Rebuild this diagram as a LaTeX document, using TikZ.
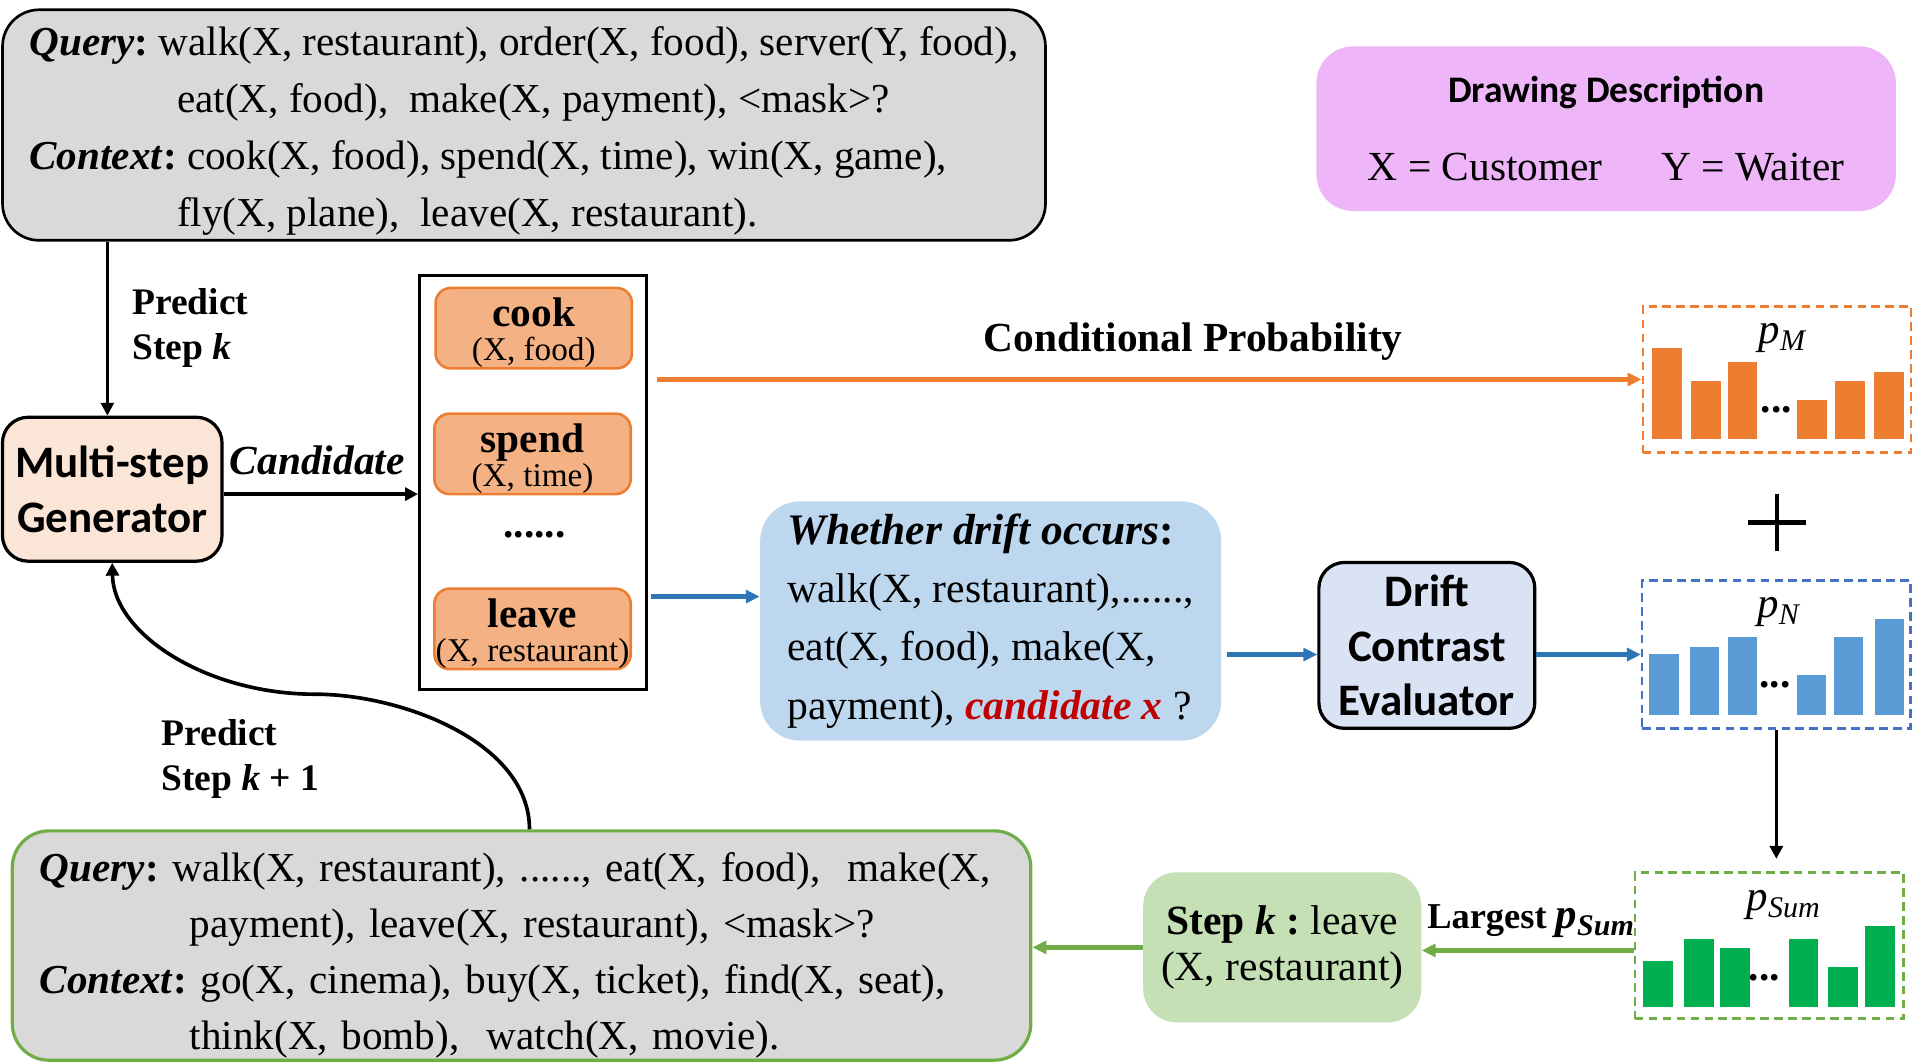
\documentclass[tikz,border=0pt]{standalone}
\usepackage{fontspec}
\setmainfont{Liberation Serif}
\setsansfont{Carlito}
\usepackage{xcolor}
\usetikzlibrary{arrows.meta, positioning}

\definecolor{boxgray}{RGB}{217,217,217}
\definecolor{cporange}{RGB}{237,125,49}
\definecolor{candfill}{RGB}{244,177,131}
\definecolor{genfill}{RGB}{251,229,214}
\definecolor{arrblue}{RGB}{46,117,182}
\definecolor{driftfill}{RGB}{189,215,238}
\definecolor{evalfill}{RGB}{218,227,243}
\definecolor{dashblue}{RGB}{68,114,196}
\definecolor{barblue}{RGB}{91,155,213}
\definecolor{stepgreen}{RGB}{112,173,71}
\definecolor{bargreen}{RGB}{0,176,80}
\definecolor{stepfill}{RGB}{197,224,180}
\definecolor{candred}{RGB}{192,0,0}
\definecolor{descfill}{RGB}{238,181,248}

\newcommand{\querysize}{\fontsize{19.2}{26.6}\selectfont}
\newcommand{\argsize}{\fontsize{15.5}{16}\selectfont}
\newcommand{\namesize}{\fontsize{19.3}{16}\selectfont}
\newcommand{\modsize}{\fontsize{21}{25.5}\selectfont}
\newcommand{\predsize}{\fontsize{17.5}{21}\selectfont}
\frenchspacing

\tikzset{
    querybox/.style={draw, fill=boxgray, rounded corners=0.6cm, line width=1.25pt, align=left, inner ysep=0pt},
    candbox/.style={draw=cporange, fill=candfill, rounded corners=0.25cm, line width=1.2pt,
        minimum width=3.22cm, minimum height=1.32cm, inner sep=0pt, align=center, font=\argsize},
    modulebox/.style={draw, line width=1.5pt, rounded corners=0.42cm, align=center,
        font=\modsize\sffamily\bfseries},
    distbox/.style={line width=1.2pt, dash pattern=on 4pt off 2.5pt,
        minimum width=4.4cm, minimum height=2.4cm},
    plabel/.style={font=\fontsize{20}{22}\selectfont\itshape},
    flow/.style={-{Triangle[length=6pt,width=6pt]}, line width=1.7pt},
    colorflow/.style={-{Triangle[length=6.5pt,width=6pt]}, line width=2.2pt}
}

\begin{document}
\begin{tikzpicture}[x=0.02cm, y=-0.02cm]
    \useasboundingbox (0,0) rectangle (1568,871);

    % query of step k
    \node[querybox, font=\querysize, minimum width=17.1cm, minimum height=3.78cm] (query) at (429.5,102.5) {%
        \rule{0pt}{0.68cm}\textbf{\textit{Query}:} walk(X, restaurant), order(X, food), server(Y, food),\\
        \hspace*{2.42cm}eat(X, food),\ \ make(X, payment), <mask>?\\
        \textbf{\textit{Context}:} cook(X, food), spend(X, time), win(X, game),\\
        \hspace*{2.42cm}fly(X, plane),\ \ leave(X, restaurant).};

    % drawing description
    \node[fill=descfill, rounded corners=0.6cm, minimum width=9.5cm, minimum height=2.7cm, align=center,
        font=\fontsize{19.3}{26.4}\selectfont] (desc) at (1316.5,105.5)
        {{\sffamily\bfseries\fontsize{17.5}{20}\selectfont Drawing Description}\\[10pt]
         X = Customer\hspace{0.96cm}Y = Waiter};

    % generator and candidates
    \node[modulebox, fill=genfill, minimum width=3.6cm, minimum height=2.36cm] (gen) at (92,401) {Multi-step\\Generator};
    \node[anchor=west, align=left, inner xsep=0pt, font=\predsize\bfseries] (predictk) at (108,268.5) {Predict\\Step \textit{k}};
    \draw[flow] ([xshift=-0.08cm]gen.north |- query.south) -- ([xshift=-0.08cm]gen.north);

    \node[draw, line width=1.6pt, minimum width=3.72cm, minimum height=6.78cm] (cands) at (437,395.5) {};
    \node[candbox] (cook) at (437.5,269) {\rule{0pt}{0.62cm}{\namesize\bfseries cook}\\(X, food)};
    \node[candbox] (spend) at (436.5,372) {\rule{0pt}{0.62cm}{\namesize\bfseries spend}\\(X, time)};
    \node[font=\namesize\bfseries] (moredots) at (438,438) {......};
    \node[candbox] (leave) at (436.5,515.5) {\rule{0pt}{0.62cm}{\namesize\bfseries leave}\\(X, restaurant)};

    \node[font=\fontsize{19.3}{22}\selectfont\bfseries\itshape] (candlabel) at (260,377) {Candidate};
    \draw[flow] (gen.east |- 0,405) -- (cands.west |- 0,405);

    % conditional probability
    \node[distbox, draw=cporange] (pm) at (1456.5,311) {};
    \node[plabel] (pmlabel) at (1461,277) {p\textsubscript{M}};
    \foreach \bx/\btop in {1354/285, 1386/312, 1416/297, 1473/328, 1504/312, 1536/305}
        \fill[cporange] (\bx,360) rectangle (\bx+24.5,\btop);
    \node[font=\namesize\bfseries] (pmdots) at (1456,336) {...};
    \node[font=\fontsize{19.3}{22}\selectfont\bfseries] (condprob) at (978,280) {Conditional Probability};
    \draw[colorflow, cporange] ([xshift=0.14cm]cands.east |- pm.west) -- (pm.west);

    \draw[line width=2.3pt] (1433,428) -- (1480,428);
    \draw[line width=2.3pt] (1456.5,405) -- (1456.5,452);

    % drift
    \node[fill=driftfill, rounded corners=0.65cm, minimum width=7.56cm, minimum height=3.92cm, align=left,
        font=\fontsize{19.4}{27.2}\selectfont] (whether) at (812,509) {%
        {\fontsize{20.3}{27.2}\selectfont\textbf{\textit{Whether drift occurs}:}}\\
        walk(X, restaurant),......,\\
        eat(X, food), make(X,\\
        payment), \textcolor{candred}{\textbf{\textit{candidate x}}} ?};
    \draw[colorflow, arrblue] ([xshift=0.04cm]cands.east |- 0,489) -- (whether.west |- 0,489);

    \node[modulebox, fill=evalfill, minimum width=3.54cm, minimum height=2.72cm] (evaluator) at (1169.5,529) {Drift\\Contrast\\Evaluator};

    \node[distbox, draw=dashblue, minimum height=2.42cm] (pn) at (1456,536.5) {};
    \node[plabel] (pnlabel) at (1458,502) {p\textsubscript{N}};
    \foreach \bx/\btop in {1352/536, 1385/530, 1416/522, 1473/553, 1503/522, 1537/507}
        \fill[barblue] (\bx,586) rectangle (\bx+24,\btop);
    \node[font=\namesize\bfseries] (pndots) at (1455,561) {...};

    \draw[colorflow, arrblue] ([xshift=0.08cm]whether.east |- pn.west) -- (evaluator.west |- pn.west);
    \draw[colorflow, arrblue] (evaluator.east |- pn.west) -- (pn.west);

    % sum
    \node[distbox, draw=stepgreen] (psum) at (1450,775) {};
    \node[plabel] (psumlabel) at (1462,742) {p\textsubscript{Sum}};
    \foreach \bx/\btop in {1347/788, 1380/770, 1410/777, 1466/770, 1498/793, 1529/759}
        \fill[bargreen] (\bx,825) rectangle (\bx+24.5,\btop);
    \node[font=\namesize\bfseries] (psumdots) at (1446,801) {...};
    \draw[flow] (pn.south) -- ([yshift=0.2cm]pn.south |- psum.north);

    \node[fill=stepfill, rounded corners=0.55cm, minimum width=4.56cm, minimum height=2.46cm, align=center,
        font=\fontsize{19.4}{21.6}\selectfont] (stepk) at (1051,776.5) {\textbf{Step \textit{k} :} leave\\(X, restaurant)};
    \node[font=\fontsize{17}{20}\selectfont\bfseries] (largest) at (1255,755) {Largest {\fontsize{20}{20}\selectfont\textit{p}\textsubscript{\textit{Sum}}}};
    \draw[colorflow, stepgreen] ([yshift=-0.08cm]psum.west) -- ([yshift=-0.08cm]stepk.east |- psum.west);

    % query of step k+1
    \node[querybox, draw=stepgreen, line width=1.5pt, font=\fontsize{19.2}{26.1}\selectfont, text width=15.8cm,
        minimum width=16.7cm, minimum height=3.76cm] (bquery) at (427.5,775) {%
        \rule{0pt}{0.8cm}\textbf{\textit{Query}:} walk(X, restaurant), ......, eat(X, food),\ \ make(X,\\
        \hspace*{2.46cm}payment), leave(X, restaurant), <mask>?\\
        \textbf{\textit{Context}:} go(X, cinema), buy(X, ticket), find(X, seat),\\
        \hspace*{2.46cm}think(X, bomb),\ \ watch(X, movie).};
    \draw[colorflow, stepgreen] (stepk.west) -- (bquery.east |- stepk.west);

    \node[anchor=west, align=left, inner xsep=0pt, font=\predsize\bfseries] (predictk1) at (132,622) {Predict\\Step \textit{k} + 1};
    \coordinate (turn) at (258,569);
    \draw[flow] ([xshift=0.13cm]bquery.north) .. controls +(0,-71) and (330,569) .. (turn)
        .. controls (170,569) and (93,520) .. (gen.south);
\end{tikzpicture}
\end{document}
